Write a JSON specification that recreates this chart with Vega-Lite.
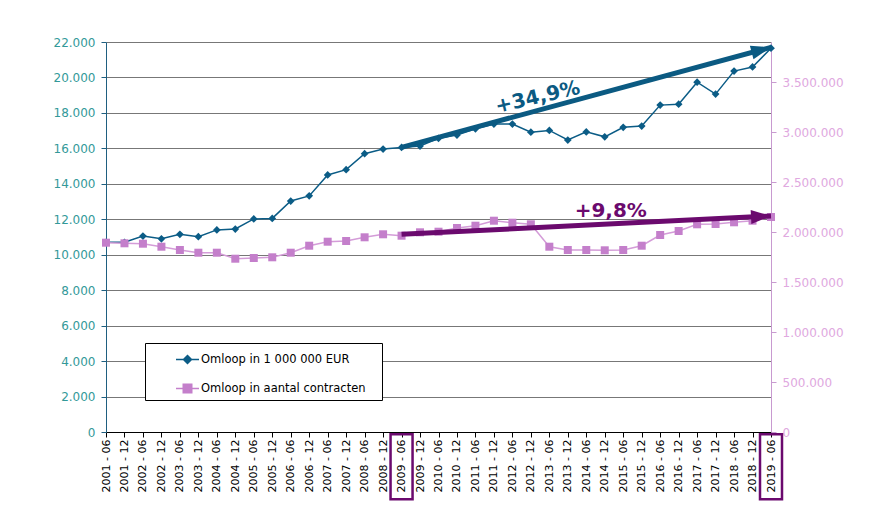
{
  "$schema": "https://vega.github.io/schema/vega-lite/v6.json",
  "width": 665,
  "height": 390,
  "autosize": {"type": "none"},
  "padding": {"left": 106, "top": 42, "right": 108, "bottom": 79},
  "background": "white",
  "config": {
    "locale": {"number": {"decimal": ",", "thousands": ".", "grouping": [3], "currency": ["", ""]}},
    "font": "DejaVu Sans",
    "view": {"stroke": null}
  },
  "data": {"values": [
    {"d": "2001 - 06", "eur": 10700, "contracts": 1893000},
    {"d": "2001 - 12", "eur": 10700, "contracts": 1887000},
    {"d": "2002 - 06", "eur": 11050, "contracts": 1883000},
    {"d": "2002 - 12", "eur": 10900, "contracts": 1853000},
    {"d": "2003 - 06", "eur": 11150, "contracts": 1820000},
    {"d": "2003 - 12", "eur": 11020, "contracts": 1793000},
    {"d": "2004 - 06", "eur": 11400, "contracts": 1793000},
    {"d": "2004 - 12", "eur": 11450, "contracts": 1733000},
    {"d": "2005 - 06", "eur": 12020, "contracts": 1740000},
    {"d": "2005 - 12", "eur": 12050, "contracts": 1747000},
    {"d": "2006 - 06", "eur": 13030, "contracts": 1793000},
    {"d": "2006 - 12", "eur": 13320, "contracts": 1863000},
    {"d": "2007 - 06", "eur": 14500, "contracts": 1903000},
    {"d": "2007 - 12", "eur": 14800, "contracts": 1910000},
    {"d": "2008 - 06", "eur": 15700, "contracts": 1947000},
    {"d": "2008 - 12", "eur": 15960, "contracts": 1977000},
    {"d": "2009 - 06", "eur": 16050, "contracts": 1963000},
    {"d": "2009 - 12", "eur": 16130, "contracts": 1997000},
    {"d": "2010 - 06", "eur": 16570, "contracts": 2003000},
    {"d": "2010 - 12", "eur": 16750, "contracts": 2040000},
    {"d": "2011 - 06", "eur": 17100, "contracts": 2063000},
    {"d": "2011 - 12", "eur": 17370, "contracts": 2113000},
    {"d": "2012 - 06", "eur": 17370, "contracts": 2093000},
    {"d": "2012 - 12", "eur": 16910, "contracts": 2077000},
    {"d": "2013 - 06", "eur": 17010, "contracts": 1853000},
    {"d": "2013 - 12", "eur": 16470, "contracts": 1820000},
    {"d": "2014 - 06", "eur": 16930, "contracts": 1820000},
    {"d": "2014 - 12", "eur": 16650, "contracts": 1817000},
    {"d": "2015 - 06", "eur": 17190, "contracts": 1820000},
    {"d": "2015 - 12", "eur": 17260, "contracts": 1863000},
    {"d": "2016 - 06", "eur": 18440, "contracts": 1970000},
    {"d": "2016 - 12", "eur": 18490, "contracts": 2010000},
    {"d": "2017 - 06", "eur": 19730, "contracts": 2077000},
    {"d": "2017 - 12", "eur": 19060, "contracts": 2080000},
    {"d": "2018 - 06", "eur": 20360, "contracts": 2097000},
    {"d": "2018 - 12", "eur": 20590, "contracts": 2113000},
    {"d": "2019 - 06", "eur": 21650, "contracts": 2150000}
  ]},
  "layer": [
    {
      "mark": {"type": "line", "color": "#0B5C86", "strokeWidth": 1.5},
      "encoding": {
        "x": {
          "field": "d",
          "type": "ordinal",
          "sort": null,
          "scale": {"type": "point", "padding": 0},
          "axis": {
            "title": null,
            "labelAngle": -90,
            "labelFontSize": 11,
            "labelColor": "black",
            "labelOverlap": false,
            "domainColor": "black",
            "tickColor": "black",
            "tickSize": 5,
            "labelPadding": 2,
            "grid": false
          }
        },
        "y": {
          "field": "eur",
          "type": "quantitative",
          "scale": {"domain": [0, 22000], "nice": false},
          "axis": {
            "title": null,
            "orient": "left",
            "values": [0, 2000, 4000, 6000, 8000, 10000, 12000, 14000, 16000, 18000, 20000, 22000],
            "format": ",d",
            "labelFontSize": 12,
            "labelColor": "#339999",
            "labelOverlap": false,
            "domainColor": "#1F5F80",
            "tickColor": "#1F5F80",
            "tickSize": 5,
            "labelPadding": 6,
            "grid": true,
            "gridColor": "#777777",
            "gridWidth": 1.2
          }
        }
      }
    },
    {
      "mark": {"type": "point", "filled": true, "shape": "diamond", "size": 60, "opacity": 1, "color": "#0B5C86"},
      "encoding": {
        "x": {"field": "d", "type": "ordinal", "sort": null},
        "y": {"field": "eur", "type": "quantitative", "scale": {"domain": [0, 22000], "nice": false}, "axis": null}
      }
    },
    {
      "data": {"values": [
        {"d": "2009 - 06", "eur": 16060},
        {"d": "2019 - 06", "eur": 21700}
      ]},
      "mark": {"type": "line", "color": "#0B5A82", "strokeWidth": 5},
      "encoding": {
        "x": {"field": "d", "type": "ordinal", "sort": null},
        "y": {"field": "eur", "type": "quantitative", "scale": {"domain": [0, 22000], "nice": false}, "axis": null}
      }
    },
    {
      "data": {"values": [{"d": "2019 - 06", "eur": 21700}]},
      "mark": {"type": "point", "filled": true, "shape": "M-2,-0.7L0,0L-2,0.7Z", "size": 400, "angle": -15, "color": "#0B5A82", "opacity": 1},
      "encoding": {
        "x": {"field": "d", "type": "ordinal", "sort": null},
        "y": {"field": "eur", "type": "quantitative", "scale": {"domain": [0, 22000], "nice": false}, "axis": null}
      }
    },
    {
      "data": {"values": [{"d": "2012 - 12", "eur": 18785, "txt": "+34,9%"}]},
      "mark": {"type": "text", "font": "DejaVu Sans", "fontWeight": "bold", "fontSize": 20, "angle": -13, "color": "#0B5A82", "align": "center", "baseline": "middle", "dx": 7},
      "encoding": {
        "x": {"field": "d", "type": "ordinal", "sort": null},
        "y": {"field": "eur", "type": "quantitative", "scale": {"domain": [0, 22000], "nice": false}, "axis": null},
        "text": {"field": "txt"}
      }
    },
    {
      "data": {"values": [{"d": "2009 - 06"}, {"d": "2019 - 06"}]},
      "mark": {"type": "rect", "width": 22, "fill": "transparent", "stroke": "#6B0A6E", "strokeWidth": 2.5},
      "encoding": {
        "x": {"field": "d", "type": "ordinal", "sort": null},
        "y": {"datum": -120, "scale": {"domain": [0, 22000], "nice": false}, "axis": null},
        "y2": {"datum": -3800}
      }
    },
    {
      "mark": {"type": "line", "color": "#D49CD8", "strokeWidth": 1.5},
      "encoding": {
        "x": {"field": "d", "type": "ordinal", "sort": null},
        "y": {
          "field": "contracts",
          "type": "quantitative",
          "scale": {"domain": [0, 3900000], "nice": false},
          "axis": {
            "title": null,
            "orient": "right",
            "values": [0, 500000, 1000000, 1500000, 2000000, 2500000, 3000000, 3500000],
            "format": ",d",
            "labelFontSize": 12,
            "labelColor": "#E0A8E0",
            "labelOverlap": false,
            "domainColor": "#C89AD0",
            "tickColor": "#C89AD0",
            "tickSize": 5,
            "labelPadding": 6,
            "grid": false
          }
        }
      }
    },
    {
      "mark": {"type": "point", "filled": true, "shape": "square", "size": 64, "opacity": 1, "color": "#C47FCB"},
      "encoding": {
        "x": {"field": "d", "type": "ordinal", "sort": null},
        "y": {"field": "contracts", "type": "quantitative", "scale": {"domain": [0, 3900000], "nice": false}, "axis": null}
      }
    },
    {
      "data": {"values": [
        {"d": "2009 - 06", "contracts": 1977000},
        {"d": "2019 - 06", "contracts": 2160000}
      ]},
      "mark": {"type": "line", "color": "#6B0A6E", "strokeWidth": 5},
      "encoding": {
        "x": {"field": "d", "type": "ordinal", "sort": null},
        "y": {"field": "contracts", "type": "quantitative", "scale": {"domain": [0, 3900000], "nice": false}, "axis": null}
      }
    },
    {
      "data": {"values": [{"d": "2019 - 06", "contracts": 2160000}]},
      "mark": {"type": "point", "filled": true, "shape": "M-2,-0.7L0,0L-2,0.7Z", "size": 400, "angle": -3, "color": "#6B0A6E", "opacity": 1},
      "encoding": {
        "x": {"field": "d", "type": "ordinal", "sort": null},
        "y": {"field": "contracts", "type": "quantitative", "scale": {"domain": [0, 3900000], "nice": false}, "axis": null}
      }
    },
    {
      "data": {"values": [{"d": "2014 - 12", "contracts": 2210000, "txt": "+9,8%"}]},
      "mark": {"type": "text", "font": "DejaVu Sans", "fontWeight": "bold", "fontSize": 20, "color": "#6B0A6E", "align": "center", "baseline": "middle", "dx": 6},
      "encoding": {
        "x": {"field": "d", "type": "ordinal", "sort": null},
        "y": {"field": "contracts", "type": "quantitative", "scale": {"domain": [0, 3900000], "nice": false}, "axis": null},
        "text": {"field": "txt"}
      }
    },
    {
      "data": {"values": [
        {"s": "Omloop in 1 000 000 EUR"},
        {"s": "Omloop in aantal contracten"}
      ]},
      "mark": {"type": "point", "filled": true, "opacity": 0, "strokeWidth": 1.5},
      "encoding": {
        "fill": {
          "field": "s",
          "type": "nominal",
          "scale": {"domain": ["Omloop in 1 000 000 EUR", "Omloop in aantal contracten"], "range": ["#0B5C86", "#C47FCB"]},
          "legend": {
            "orient": "none",
            "legendX": 39,
            "legendY": 301,
            "title": " ",
            "titleOrient": "right",
            "titlePadding": 12,
            "titleFontSize": 11,
            "direction": "vertical",
            "strokeColor": "black",
            "fillColor": "white",
            "padding": 4,
            "labelFont": "DejaVu Sans",
            "labelFontSize": 11.5,
            "labelColor": "black",
            "labelLimit": 300,
            "symbolOffset": 26,
            "rowPadding": 9,
            "labelOffset": 1,
            "symbolSize": 529,
            "symbolStrokeWidth": 1.5,
            "symbolOpacity": 1
          }
        },
        "stroke": {
          "field": "s",
          "type": "nominal",
          "scale": {"domain": ["Omloop in 1 000 000 EUR", "Omloop in aantal contracten"], "range": ["#0B5C86", "#C47FCB"]}
        },
        "shape": {
          "field": "s",
          "type": "nominal",
          "scale": {"domain": ["Omloop in 1 000 000 EUR", "Omloop in aantal contracten"], "range": ["M-1,0H1M-0.35,0L0,-0.35L0.35,0L0,0.35ZM-0.25,0L0,-0.25L0.25,0L0,0.25ZM-0.15,0L0,-0.15L0.15,0L0,0.15ZM-0.05,0L0,-0.05L0.05,0L0,0.05Z", "M-1,0H1M-0.37,-0.37H0.37V0.37H-0.37ZM-0.27,-0.27H0.27V0.27H-0.27ZM-0.17,-0.17H0.17V0.17H-0.17ZM-0.07,-0.07H0.07V0.07H-0.07Z"]}
        }
      }
    }
  ],
  "resolve": {"scale": {"y": "independent"}, "axis": {"y": "independent"}}
}
